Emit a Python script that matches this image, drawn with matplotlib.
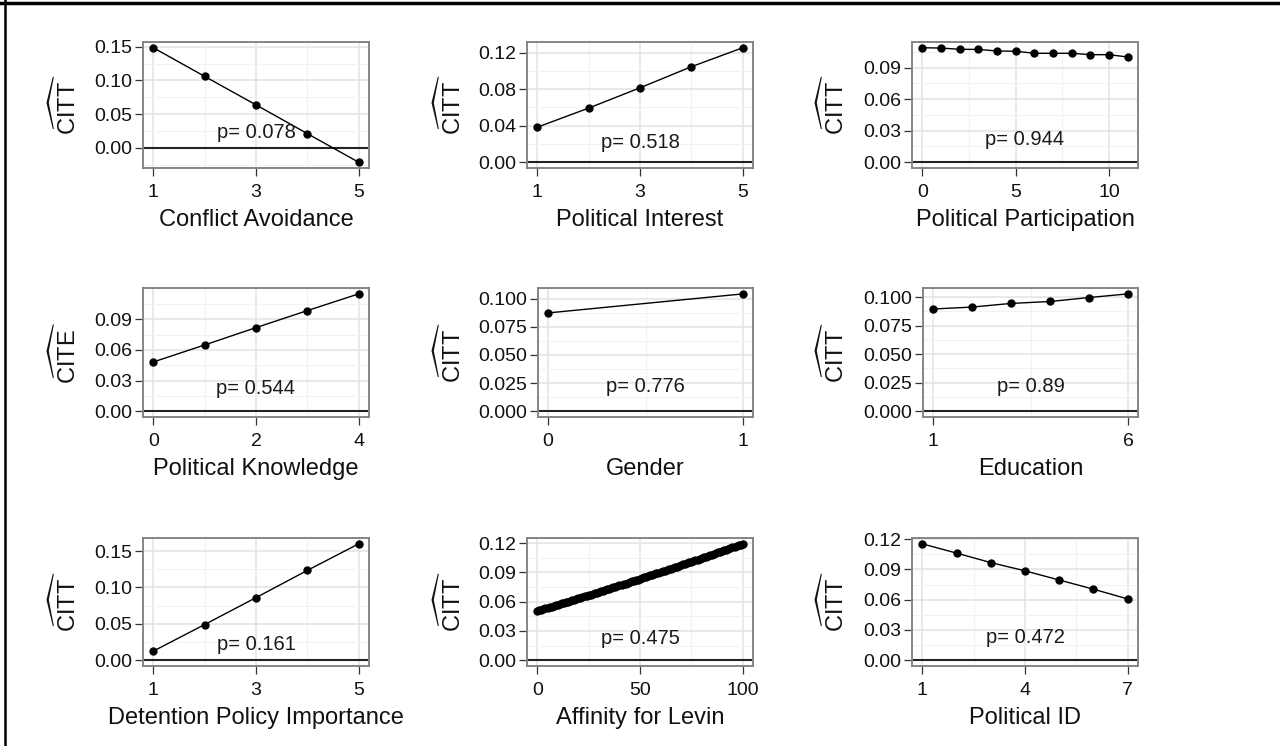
import numpy as np
import matplotlib
matplotlib.use("Agg")
import matplotlib.pyplot as plt
from matplotlib.lines import Line2D

plt.rcParams['font.family'] = ['Liberation Sans', 'DejaVu Sans']
plt.rcParams['mathtext.fontset'] = 'custom'
plt.rcParams['mathtext.rm'] = 'Liberation Sans'
plt.rcParams['mathtext.it'] = 'Liberation Sans:italic'

# ---- data ----
conflict_x = [1, 2, 3, 4, 5]
conflict_y = [0.1485, 0.106, 0.0637, 0.021, -0.0215]

interest_x = [1, 2, 3, 4, 5]
interest_y = [0.0384, 0.0593, 0.0815, 0.1046, 0.1254]

particip_x = list(range(12))
particip_y = [0.1088, 0.1085, 0.1073, 0.1072, 0.1057, 0.1055,
              0.1035, 0.1035, 0.1035, 0.1022, 0.1022, 0.1000]

knowledge_x = [0, 1, 2, 3, 4]
knowledge_y = [0.0482, 0.0649, 0.0819, 0.0986, 0.1150]

gender_x = [0, 1]
gender_y = [0.0874, 0.1044]

education_x = [1, 2, 3, 4, 5, 6]
education_y = [0.0896, 0.0913, 0.0945, 0.0962, 0.0997, 0.1029]

detention_x = [1, 2, 3, 4, 5]
detention_y = [0.0124, 0.049, 0.086, 0.1235, 0.160]

levin_x = list(range(101))
levin_y = [0.0506, 0.0512, 0.0519, 0.0525, 0.0531, 0.0537, 0.0544, 0.0550, 0.0556, 0.0563,
           0.0569, 0.0576, 0.0582, 0.0588, 0.0595, 0.0601, 0.0608, 0.0614, 0.0621, 0.0627,
           0.0633, 0.0640, 0.0647, 0.0653, 0.0660, 0.0666, 0.0673, 0.0679, 0.0686, 0.0692,
           0.0699, 0.0706, 0.0712, 0.0719, 0.0726, 0.0732, 0.0739, 0.0746, 0.0752, 0.0759,
           0.0766, 0.0773, 0.0779, 0.0786, 0.0793, 0.0800, 0.0807, 0.0813, 0.0820, 0.0827,
           0.0834, 0.0841, 0.0848, 0.0855, 0.0862, 0.0869, 0.0875, 0.0882, 0.0889, 0.0896,
           0.0903, 0.0910, 0.0917, 0.0924, 0.0931, 0.0938, 0.0946, 0.0953, 0.0960, 0.0967,
           0.0974, 0.0981, 0.0988, 0.0995, 0.1002, 0.1010, 0.1017, 0.1024, 0.1031, 0.1038,
           0.1046, 0.1053, 0.1060, 0.1067, 0.1075, 0.1082, 0.1089, 0.1097, 0.1104, 0.1111,
           0.1119, 0.1126, 0.1133, 0.1141, 0.1148, 0.1156, 0.1163, 0.1171, 0.1178, 0.1186,
           0.1193]

polid_x = [1, 2, 3, 4, 5, 6, 7]
polid_y = [0.1154, 0.1062, 0.0968, 0.0886, 0.0795, 0.0704, 0.0607]

titles = ["Conflict Avoidance", "Political Interest", "Political Participation",
          "Political Knowledge", "Gender", "Education",
          "Detention Policy Importance", "Affinity for Levin", "Political ID"]
ylabels = ["CITT", "CITT", "CITT", "CITE", "CITT", "CITT", "CITT", "CITT", "CITT"]
pvalues = ["0.078", "0.518", "0.944", "0.544", "0.776", "0.89", "0.161", "0.475", "0.472"]
xticks = [[1, 3, 5], [1, 3, 5], [0, 5, 10], [0, 2, 4], [0, 1], [1, 6],
          [1, 3, 5], [0, 50, 100], [1, 4, 7]]
yticks = [[0, 0.05, 0.10, 0.15], [0, 0.04, 0.08, 0.12], [0, 0.03, 0.06, 0.09],
          [0, 0.03, 0.06, 0.09], [0, 0.025, 0.05, 0.075, 0.1], [0, 0.025, 0.05, 0.075, 0.1],
          [0, 0.05, 0.10, 0.15], [0, 0.03, 0.06, 0.09, 0.12], [0, 0.03, 0.06, 0.09, 0.12]]
ydec = [2, 2, 2, 2, 3, 3, 2, 2, 2]

xs = [conflict_x, interest_x, particip_x, knowledge_x, gender_x, education_x,
      detention_x, levin_x, polid_x]
ys = [conflict_y, interest_y, particip_y, knowledge_y, gender_y, education_y,
      detention_y, levin_y, polid_y]

# ---- layout (pixels) ----
W, H = 1280, 746
rows_tb = [(42, 168), (288, 417), (538, 666)]
col_right = [369, 753, 1138]
col_label_x = [81, 466, 849]

fig = plt.figure(figsize=(W / 100, H / 100), dpi=100)
fig.patch.set_facecolor('white')

def midpoints(t, lo, hi):
    t = list(t)
    step = t[1] - t[0]
    ext = [t[0] - step] + t + [t[-1] + step]
    m = [(a + b) / 2 for a, b in zip(ext[:-1], ext[1:])]
    return [v for v in m if lo <= v <= hi]

for i in range(9):
    r, c = divmod(i, 3)
    top, bot = rows_tb[r]
    width = 215 if ydec[i] == 3 else 226
    right = col_right[c]
    left = right - width
    ax = fig.add_axes([left / W, 1 - bot / H, width / W, (bot - top) / H])

    x = np.array(xs[i], dtype=float)
    y = np.array(ys[i], dtype=float)
    x0, x1 = x.min(), x.max()
    dx = (x1 - x0) * 0.05
    y0, y1 = min(y.min(), 0), max(y.max(), 0)
    dy = (y1 - y0) * 0.05
    ax.set_xlim(x0 - dx, x1 + dx)
    ax.set_ylim(y0 - dy, y1 + dy)

    ax.set_xticks(xticks[i])
    ax.set_xticks(midpoints(xticks[i], x0 - dx, x1 + dx), minor=True)
    ax.set_yticks(yticks[i])
    ax.set_yticks(midpoints(yticks[i], y0 - dy, y1 + dy), minor=True)
    ax.set_yticklabels([f"{v:.{ydec[i]}f}" for v in yticks[i]])
    ax.set_xticklabels([str(v) for v in xticks[i]])

    ax.grid(which='major', color='#e3e3e3', linewidth=1.1)
    ax.grid(which='minor', color='#f2f2f2', linewidth=0.8)
    ax.set_axisbelow(True)

    ax.axhline(0, color='#222222', linewidth=1.5, zorder=2)
    ax.plot(x, y, color='black', linewidth=1.0, zorder=3)
    ax.plot(x, y, 'o', color='black', markersize=5, zorder=4)

    ax.text((x0 + x1) / 2, 0.022, "p= " + pvalues[i], ha='center', va='center',
            fontsize=14.5, color='#1a1a1a', zorder=5)

    for s in ax.spines.values():
        s.set_color('#858585')
        s.set_linewidth(1.4)
    ax.tick_params(which='major', direction='out', length=5.5, width=0.9,
                   color='#333333', labelsize=14, labelcolor='#111111')
    ax.tick_params(axis='x', which='major', pad=6)
    ax.tick_params(axis='y', which='major', pad=2)
    ax.tick_params(which='minor', length=0)

    ax.set_xlabel(titles[i], fontsize=17, color='#111111', labelpad=6)
    ax.set_ylabel(r'$\widehat{\mathrm{' + ylabels[i] + '}}$', fontsize=17, color='#111111')
    ax.yaxis.set_label_coords(col_label_x[c] / W, 1 - (top + bot) / 2 / H,
                              transform=fig.transFigure)

# outer frame lines (top and left edges)
fig.add_artist(Line2D([0, 1], [1 - 2.5 / H, 1 - 2.5 / H], color='black', linewidth=2.5))
fig.add_artist(Line2D([5 / W, 5 / W], [0, 1], color='black', linewidth=1.8))

fig.savefig('out.png', dpi=100, facecolor='white')
